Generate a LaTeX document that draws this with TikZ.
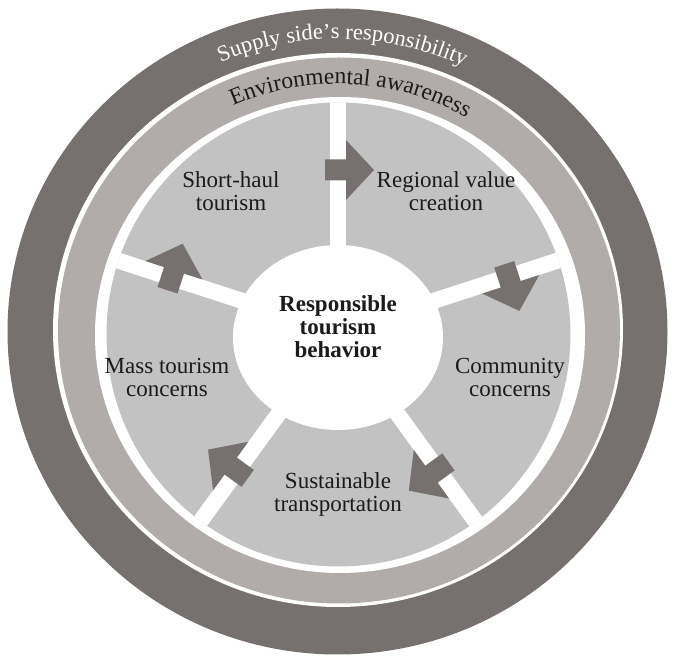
\documentclass[tikz,border=0pt]{standalone}
\usepackage{fontspec}
\setmainfont{Liberation Serif}
\usetikzlibrary{decorations.text}
\definecolor{darkring}{RGB}{118,113,111}
\definecolor{midring}{RGB}{177,172,170}
\definecolor{lightsec}{RGB}{194,194,194}
\definecolor{txt}{RGB}{28,26,26}
\newcommand{\lblfont}{\fontsize{23}{23}\selectfont}
\newcommand{\ringfont}{\fontsize{22.5}{25}\selectfont}
\newcommand{\envfont}{\fontsize{23.5}{25}\selectfont}
\begin{document}
\begin{tikzpicture}[x=1pt,y=1pt,
  lbl/.style={inner sep=0pt, anchor=base, font=\lblfont, text=txt},
  flowarrow/.pic={\fill[darkring] (-13,-10.5) -- (8,-10.5) -- (8,-30) -- (36,0) -- (8,30) -- (8,10.5) -- (-13,10.5) -- cycle;},
  spokeline/.style={white, line width=16pt}
]
\useasboundingbox (0,0) rectangle (673,662);
\coordinate (C) at (338,330);
\coordinate (Cdark) at (337.5,330.5);
% rings
\fill[darkring] (Cdark) ellipse [x radius=330, y radius=323];
\fill[white] (338,332) ellipse [x radius=285, y radius=277];
\fill[midring] (339,331.5) ellipse [x radius=281, y radius=273];
\fill[white] (340,327) ellipse [x radius=245, y radius=238];
\fill[lightsec] (338.5,327.5) circle [radius=232];
% spokes
\begin{scope}
\clip (338.5,327.5) circle [radius=232];
\foreach \a in {90,18,-54,-126,162} \draw[spokeline] (C) -- ++(\a:260);
\end{scope}
% centre
\fill[white] (338,324.5) ellipse [x radius=105, y radius=92.5];
% arrows
\foreach \a/\rr in {90/162,18/179,-54/170,-126/171.5,162/175}
  \pic[rotate=\a-90] at ([shift={(\a:\rr)}]C) {flowarrow};
% ring texts
\path[decorate, decoration={text along path, text align=center, text color=white,
  text={|\ringfont|Supply side’s responsibility}}]
  ([shift={(149:299 and 292.5)}]Cdark) arc[start angle=149, end angle=29, x radius=299, y radius=292.5];
\path[decorate, decoration={text along path, text align=center, text color=txt,
  text={|\envfont|Environmental awareness}}]
  ([shift={(147:255 and 248)}]C) arc[start angle=147, end angle=27, x radius=255, y radius=248];
% labels
\node[lbl] (sh) at (231,451) {\begin{tabular}[b]{@{}c@{}}Short-haul\\tourism\end{tabular}};
\node[lbl] (rv) at (446,451) {\begin{tabular}[b]{@{}c@{}}Regional value\\creation\end{tabular}};
\node[lbl] (mt) at (167,265) {\begin{tabular}[b]{@{}c@{}}Mass tourism\\concerns\end{tabular}};
\node[lbl] (cc) at (510,265) {\begin{tabular}[b]{@{}c@{}}Community\\concerns\end{tabular}};
\node[lbl] (st) at (338,150) {\begin{tabular}[b]{@{}c@{}}Sustainable\\transportation\end{tabular}};
\node[lbl, font=\lblfont\bfseries] (rtb) at (338,304) {\begin{tabular}[b]{@{}c@{}}Responsible\\tourism\\behavior\end{tabular}};
\end{tikzpicture}
\end{document}
